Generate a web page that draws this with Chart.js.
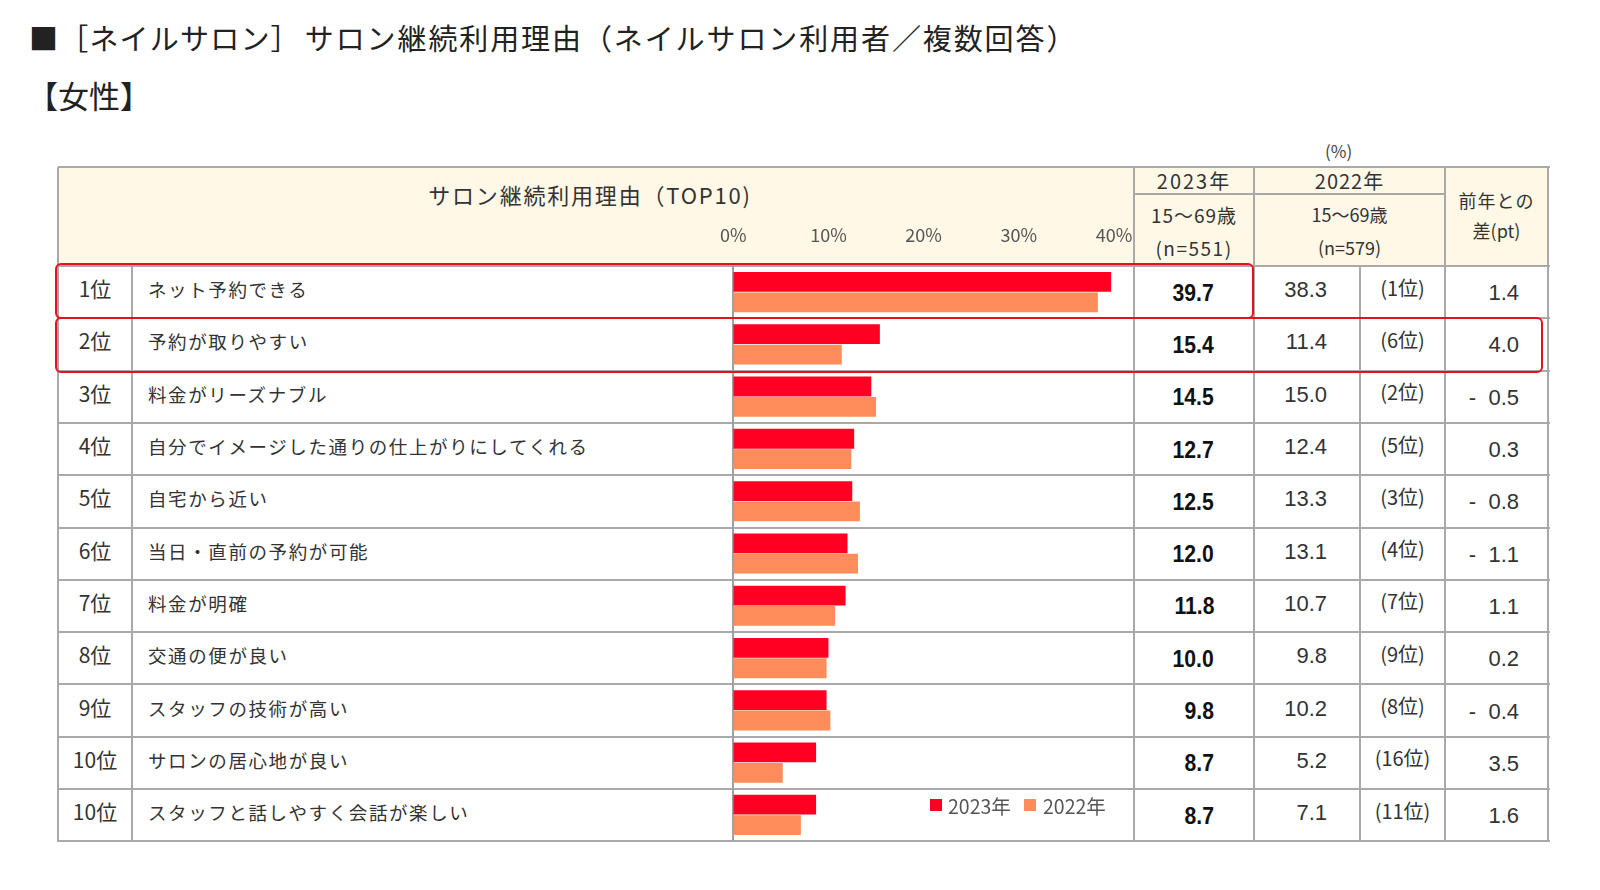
<!DOCTYPE html>
<html><head><meta charset="utf-8">
<script src="https://cdn.jsdelivr.net/npm/chart.js@4.4.0/dist/chart.umd.min.js"></script>
<style>
html,body{margin:0;padding:0}
body{width:1600px;height:890px;background:#fff;position:relative;overflow:hidden;font-family:"Noto Sans CJK JP",sans-serif;color:#333}
.a{position:absolute;white-space:nowrap}
.c{position:absolute;display:flex;align-items:center;white-space:nowrap}
.hl{position:absolute;background:#a9a9a9;height:2px}
.vl{position:absolute;background:#a9a9a9;width:2px}
.num{font-family:"Liberation Sans","Noto Sans CJK JP",sans-serif}
.box{position:absolute;border:2.5px solid #e8101e;border-radius:6px;box-sizing:border-box;z-index:5}
#chartWrap{position:absolute;left:700px;top:212px;width:460px;height:629px;z-index:3}
</style></head><body>
<div id="root"></div>
<div id="chartWrap"><canvas id="cv" width="460" height="629"></canvas></div>
<script>
// ---- data ----
const ranks = ["1位","2位","3位","4位","5位","6位","7位","8位","9位","10位","10位"];
const reasons = ["ネット予約できる","予約が取りやすい","料金がリーズナブル","自分でイメージした通りの仕上がりにしてくれる","自宅から近い","当日・直前の予約が可能","料金が明確","交通の便が良い","スタッフの技術が高い","サロンの居心地が良い","スタッフと話しやすく会話が楽しい"];
const values2023 = [39.7,15.4,14.5,12.7,12.5,12.0,11.8,10.0,9.8,8.7,8.7];
const values2022 = [38.3,11.4,15.0,12.4,13.3,13.1,10.7,9.8,10.2,5.2,7.1];
const ranks2022 = ["(1位)","(6位)","(2位)","(5位)","(3位)","(4位)","(7位)","(9位)","(8位)","(16位)","(11位)"];
const diffs = ["1.4","4.0","-  0.5","0.3","-  0.8","-  1.1","1.1","0.2","-  0.4","3.5","1.6"];
const xTicks = [0,10,20,30,40];
const seriesNames = ["2023年","2022年"];
const titleParts = ["■","［ネイルサロン］","サロン継続利用理由（ネイルサロン利用者／複数回答）"];
const subTitle = "【女性】";

// ---- layout ----
const L=58, R=1548, X1=132, X2=732, X3=1134, X4=1254, X5=1360, X6=1445;
const HT=167, HS=194, RT=266, RH=52.3, N=ranks.length, RB=RT+RH*N;
const root=document.getElementById('root');
function el(cls,css,html){const d=document.createElement('div');d.className=cls;Object.assign(d.style,css);if(html!==undefined)d.innerHTML=html;root.appendChild(d);return d;}
const px=v=>v+'px';
const sq=(t,s,o)=>`<span style="display:inline-block;transform:scaleX(${s});transform-origin:${o} center;white-space:pre">${t}</span>`;

el('a',{left:'29px',top:'16px',fontSize:'29px',color:'#222',letterSpacing:'1.2px'},
  `<span>${titleParts[0]}</span><span>${titleParts[1]}</span><span style="margin-left:4px;letter-spacing:1.9px">${titleParts[2]}</span>`);
el('a',{left:'27px',top:'72px',fontSize:'31px',color:'#222'},subTitle);
el('a',{left:'1325px',top:'138px',fontSize:'17px',color:'#444'},'(%)');

// header background
el('a',{left:px(L),top:px(HT),width:px(R-L),height:px(RT-HT),background:'#fff8e6'});
// header texts
el('c',{left:px(L),top:px(HT+7),width:px(X3-L-12),height:'40px',justifyContent:'center',fontSize:'22px',color:'#333',letterSpacing:'1.8px'},'サロン継続利用理由（TOP10)');
el('c',{left:px(X3),top:px(HT),width:px(X4-X3),height:px(HS-HT),justifyContent:'center',fontSize:'20px',letterSpacing:'2px'},'2023年');
el('c',{left:px(X3),top:px(HS+4),width:px(X4-X3),height:'32px',justifyContent:'center',fontSize:'19px',letterSpacing:'1px'},'15〜69歳');
el('c',{left:px(X3),top:px(HS+36),width:px(X4-X3),height:'34px',justifyContent:'center',fontSize:'19px',letterSpacing:'1.5px'},'(n=551)');
el('c',{left:px(X4),top:px(HT),width:px(X6-X4),height:px(HS-HT),justifyContent:'center',fontSize:'20px',letterSpacing:'1px'},'2022年');
el('c',{left:px(X4),top:px(HS+4),width:px(X6-X4),height:'32px',justifyContent:'center',fontSize:'18px'},'15〜69歳');
el('c',{left:px(X4),top:px(HS+36),width:px(X6-X4),height:'34px',justifyContent:'center',fontSize:'18px'},'(n=579)');
el('c',{left:px(X6),top:px(HT+19),width:px(R-X6),height:'28px',justifyContent:'center',fontSize:'18px',letterSpacing:'1px'},'前年との');
el('c',{left:px(X6),top:px(HT+49),width:px(R-X6),height:'28px',justifyContent:'center',fontSize:'18px'},'差(pt)');

// grid lines
el('hl',{left:px(L),top:px(HT-1),width:px(R-L+2)});
el('hl',{left:px(X3),top:px(HS-1),width:px(X6-X3)});
for(let i=0;i<=N;i++) el('hl',{left:px(L),top:px(RT+i*RH-1),width:px(R-L+2)});
[L,X3,X4,X6,R].forEach(x=>el('vl',{left:px(x-1),top:px(HT),height:px(RB-HT+1)}));
[X1,X5].forEach(x=>el('vl',{left:px(x-1),top:px(RT),height:px(RB-RT+1)}));

// rows
for(let i=0;i<N;i++){
  const t=RT+i*RH;
  el('c',{left:px(L),top:px(t-4),width:px(X1-L),height:px(RH),justifyContent:'center',fontSize:'21px',color:'#333'},ranks[i]);
  el('c',{left:px(X1+16),top:px(t-3),height:px(RH),fontSize:'18.5px',letterSpacing:'1.6px',color:'#333'},reasons[i]);
  el('c num',{left:px(X3),top:px(t+1),width:px(X4-X3-40),height:px(RH),justifyContent:'flex-end',fontSize:'23px',fontWeight:'bold',color:'#111'},sq(values2023[i].toFixed(1),0.92,'right'));
  el('c num',{left:px(X4),top:px(t-2),width:px(X5-X4-33),height:px(RH),justifyContent:'flex-end',fontSize:'22px',color:'#333'},values2022[i].toFixed(1));
  el('c',{left:px(X5),top:px(t-5),width:px(X6-X5),height:px(RH),justifyContent:'center',fontSize:'20px',color:'#333'},ranks2022[i]);
  el('c num',{left:px(X6),top:px(t+1),width:px(R-X6-29),height:px(RH),justifyContent:'flex-end',fontSize:'22px',color:'#333',whiteSpace:'pre'},diffs[i]);
}
// highlight boxes
el('box',{left:'55px',top:px(RT-3),width:px(X4-55),height:px(RH+4)});
el('box',{left:'55px',top:px(RT+RH-1),width:px(1543-55),height:px(RH+3)});

// legend
const colors=['#ff0022','#ff8c5a'];
const lg=[[930,948],[1024,1043]];
seriesNames.forEach((s,i)=>{
  el('a',{left:px(lg[i][0]),top:'799px',width:'12px',height:'12px',background:colors[i],zIndex:6});
  el('c',{left:px(lg[i][1]),top:'791px',height:'28px',fontSize:'19.5px',color:'#555',zIndex:6},s);
});

// chart
new Chart(document.getElementById('cv').getContext('2d'),{
  type:'bar',
  data:{labels:reasons,datasets:[
    {label:seriesNames[0],data:values2023,backgroundColor:colors[0],categoryPercentage:0.78,barPercentage:0.97},
    {label:seriesNames[1],data:values2022,backgroundColor:colors[1],categoryPercentage:0.78,barPercentage:0.97}
  ]},
  options:{
    indexAxis:'y',responsive:false,animation:false,
    layout:{padding:{left:32,right:46,top:0,bottom:0}},
    plugins:{legend:{display:false},tooltip:{enabled:false}},
    scales:{
      x:{position:'top',min:xTicks[0],max:xTicks[xTicks.length-1],
        afterBuildTicks:s=>{s.ticks=xTicks.map(v=>({value:v}));},
        ticks:{callback:v=>v+'%',padding:20,font:{size:18,family:'"Noto Sans CJK JP",sans-serif'},color:'#555'},
        grid:{display:false,drawTicks:false},border:{display:false},
        afterFit:s=>{s.height=54;}},
      y:{ticks:{display:false},grid:{display:false,drawTicks:false},
        border:{display:true,color:'#a0a0a0',width:2},
        afterFit:s=>{s.width=0;}}
    }
  }
});
</script>
</body></html>
